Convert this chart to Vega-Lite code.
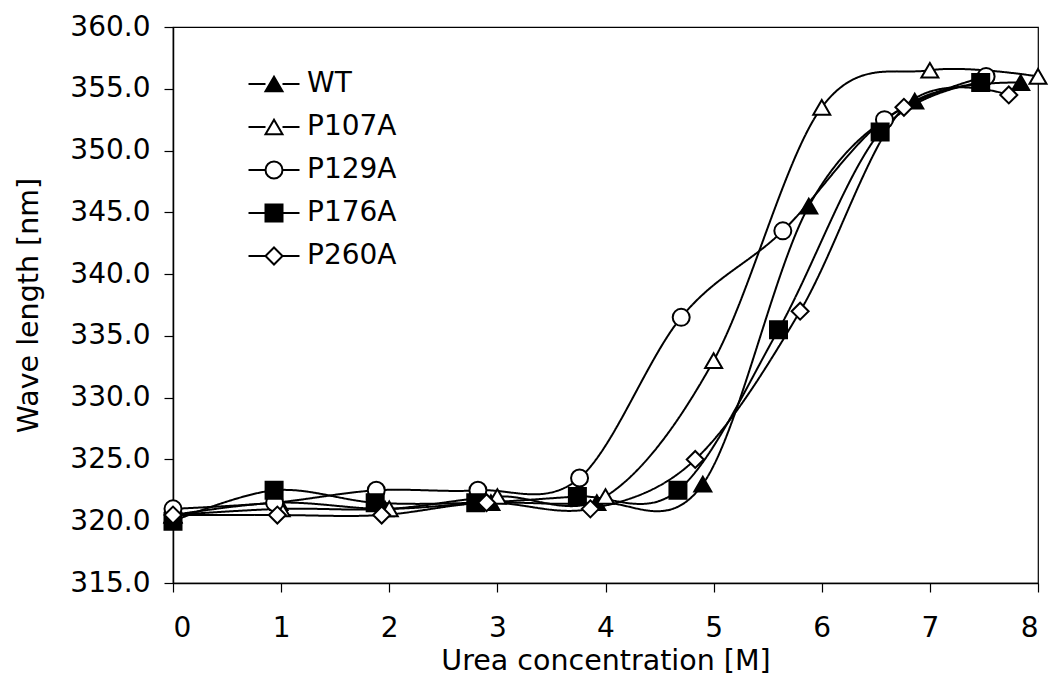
{
  "$schema": "https://vega.github.io/schema/vega-lite/v6.json",
  "width": 865,
  "height": 556,
  "autosize": "none",
  "padding": {"left": 173, "top": 27, "right": 11, "bottom": 97},
  "background": "white",
  "config": {
    "font": "DejaVu Sans",
    "view": {"stroke": "#000", "strokeWidth": 1.2},
    "axis": {
      "grid": false,
      "domainColor": "#000",
      "domainWidth": 1.5,
      "tickColor": "#000",
      "tickWidth": 1.2,
      "tickSize": 9,
      "labelFont": "DejaVu Sans",
      "labelFontSize": 28,
      "labelColor": "#000",
      "titleFont": "DejaVu Sans",
      "titleFontSize": 28.5,
      "titleFontWeight": "normal",
      "titleColor": "#000"
    },
    "legend": {
      "labelFont": "DejaVu Sans",
      "labelFontSize": 28,
      "labelColor": "#000"
    }
  },
  "data": {
    "values": [
      {"series": "WT", "urea": 0, "wl": 320.5},
      {"series": "WT", "urea": 0.98, "wl": 321.5},
      {"series": "WT", "urea": 1.96, "wl": 321.0},
      {"series": "WT", "urea": 2.94, "wl": 321.5},
      {"series": "WT", "urea": 3.92, "wl": 321.5},
      {"series": "WT", "urea": 4.9, "wl": 323.0},
      {"series": "WT", "urea": 5.88, "wl": 345.5},
      {"series": "WT", "urea": 6.86, "wl": 354.0},
      {"series": "WT", "urea": 7.84, "wl": 355.5},
      {"series": "P107A", "urea": 0, "wl": 320.5},
      {"series": "P107A", "urea": 1, "wl": 321.0},
      {"series": "P107A", "urea": 2, "wl": 321.0},
      {"series": "P107A", "urea": 3, "wl": 322.0},
      {"series": "P107A", "urea": 4, "wl": 322.0},
      {"series": "P107A", "urea": 5, "wl": 333.0},
      {"series": "P107A", "urea": 6, "wl": 353.5},
      {"series": "P107A", "urea": 7, "wl": 356.5},
      {"series": "P107A", "urea": 8, "wl": 356.0},
      {"series": "P129A", "urea": 0, "wl": 321.0},
      {"series": "P129A", "urea": 0.94, "wl": 321.5},
      {"series": "P129A", "urea": 1.88, "wl": 322.5},
      {"series": "P129A", "urea": 2.82, "wl": 322.5},
      {"series": "P129A", "urea": 3.76, "wl": 323.5},
      {"series": "P129A", "urea": 4.7, "wl": 336.5},
      {"series": "P129A", "urea": 5.64, "wl": 343.5},
      {"series": "P129A", "urea": 6.58, "wl": 352.5},
      {"series": "P129A", "urea": 7.52, "wl": 356.0},
      {"series": "P176A", "urea": 0, "wl": 320.0},
      {"series": "P176A", "urea": 0.935, "wl": 322.5},
      {"series": "P176A", "urea": 1.87, "wl": 321.5},
      {"series": "P176A", "urea": 2.8, "wl": 321.5},
      {"series": "P176A", "urea": 3.74, "wl": 322.0},
      {"series": "P176A", "urea": 4.67, "wl": 322.5},
      {"series": "P176A", "urea": 5.6, "wl": 335.5},
      {"series": "P176A", "urea": 6.54, "wl": 351.5},
      {"series": "P176A", "urea": 7.47, "wl": 355.5},
      {"series": "P260A", "urea": 0, "wl": 320.5},
      {"series": "P260A", "urea": 0.965, "wl": 320.5},
      {"series": "P260A", "urea": 1.93, "wl": 320.5},
      {"series": "P260A", "urea": 2.9, "wl": 321.5},
      {"series": "P260A", "urea": 3.86, "wl": 321.0},
      {"series": "P260A", "urea": 4.83, "wl": 325.0},
      {"series": "P260A", "urea": 5.8, "wl": 337.0},
      {"series": "P260A", "urea": 6.76, "wl": 353.5},
      {"series": "P260A", "urea": 7.73, "wl": 354.5}
    ]
  },
  "encoding": {
    "x": {
      "field": "urea",
      "type": "quantitative",
      "scale": {"domain": [0, 8], "nice": false, "zero": false},
      "axis": {
        "title": "Urea concentration [M]",
        "values": [0, 1, 2, 3, 4, 5, 6, 7, 8],
        "format": "d",
        "labelPadding": 22,
        "titlePadding": 4
      }
    },
    "y": {
      "field": "wl",
      "type": "quantitative",
      "scale": {"domain": [315, 360], "nice": false, "zero": false},
      "axis": {
        "title": "Wave length [nm]",
        "values": [315, 320, 325, 330, 335, 340, 345, 350, 355, 360],
        "format": ".1f",
        "labelPadding": 14,
        "titlePadding": 26
      }
    }
  },
  "layer": [
    {
      "mark": {"type": "line", "interpolate": "cardinal", "tension": 0, "color": "#000", "strokeWidth": 2},
      "encoding": {
        "detail": {"field": "series"},
        "strokeDash": {
          "field": "series",
          "type": "nominal",
          "sort": ["WT", "P107A", "P129A", "P176A", "P260A"],
          "scale": {"range": [[1, 0], [1, 0], [1, 0], [1, 0], [1, 0]]},
          "legend": {
            "orient": "none",
            "legendX": 87,
            "legendY": 43,
            "padding": 0,
            "title": null,
            "symbolType": "M-3,0H-1M1,0H3",
            "symbolSize": 289,
            "symbolStrokeWidth": 2,
            "symbolStrokeColor": "#000",
            "symbolFillColor": "transparent",
            "labelOffset": 19,
            "labelOpacity": 0,
            "rowPadding": 15,
            "zindex": 1
          }
        }
      }
    },
    {
      "mark": {"type": "point", "filled": false, "stroke": "#000", "strokeWidth": 2, "opacity": 1},
      "encoding": {
        "shape": {
          "field": "series",
          "type": "nominal",
          "scale": {
            "domain": ["WT", "P107A", "P129A", "P176A", "P260A"],
            "range": ["triangle-up", "triangle-up", "circle", "square", "diamond"]
          },
          "legend": {
            "orient": "none",
            "legendX": 87,
            "legendY": 43,
            "padding": 0,
            "title": null,
            "labelOffset": 19,
            "rowPadding": 15,
            "symbolStrokeWidth": 2,
            "symbolStrokeColor": "#000",
            "symbolOpacity": 1,
            "zindex": 2
          }
        },
        "fill": {
          "field": "series",
          "type": "nominal",
          "scale": {
            "domain": ["WT", "P107A", "P129A", "P176A", "P260A"],
            "range": ["#000", "#fff", "#fff", "#000", "#fff"]
          }
        },
        "size": {
          "field": "series",
          "type": "nominal",
          "scale": {
            "domain": ["WT", "P107A", "P129A", "P176A", "P260A"],
            "range": [289, 289, 225, 256, 200]
          }
        }
      }
    }
  ]
}
